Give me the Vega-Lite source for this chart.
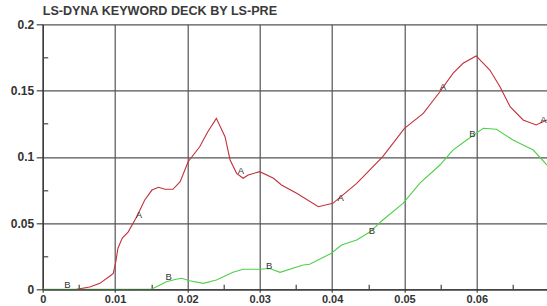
{
  "$schema": "https://vega.github.io/schema/vega-lite/v6.json",
  "autosize": "none",
  "width": 504.3,
  "height": 265,
  "padding": {"left": 42.7, "top": 24.3, "right": 0, "bottom": 16.7},
  "background": "white",
  "title": {"text": "LS-DYNA KEYWORD DECK BY LS-PRE", "anchor": "start", "frame": "group", "offset": 1, "font": "Liberation Sans", "fontSize": 12.6, "fontWeight": "bold", "color": "#3a3a3a"},
  "config": {"view": {"stroke": null}},
  "datasets": {
    "lines": [
      {"s": "B", "x": 0, "y": 0},
      {"s": "B", "x": 0.0114, "y": 0},
      {"s": "B", "x": 0.0151, "y": 0.0002},
      {"s": "B", "x": 0.0162, "y": 0.0032},
      {"s": "B", "x": 0.0171, "y": 0.0057},
      {"s": "B", "x": 0.0183, "y": 0.0074},
      {"s": "B", "x": 0.0192, "y": 0.0083},
      {"s": "B", "x": 0.0203, "y": 0.0065},
      {"s": "B", "x": 0.0222, "y": 0.0045},
      {"s": "B", "x": 0.024, "y": 0.007},
      {"s": "B", "x": 0.0263, "y": 0.0128},
      {"s": "B", "x": 0.0277, "y": 0.0151},
      {"s": "B", "x": 0.03, "y": 0.0151},
      {"s": "B", "x": 0.0314, "y": 0.0157},
      {"s": "B", "x": 0.0328, "y": 0.0128},
      {"s": "B", "x": 0.036, "y": 0.0183},
      {"s": "B", "x": 0.0369, "y": 0.0189},
      {"s": "B", "x": 0.0399, "y": 0.0272},
      {"s": "B", "x": 0.0413, "y": 0.0334},
      {"s": "B", "x": 0.0434, "y": 0.0372},
      {"s": "B", "x": 0.0452, "y": 0.0432},
      {"s": "B", "x": 0.047, "y": 0.0523},
      {"s": "B", "x": 0.0498, "y": 0.0649},
      {"s": "B", "x": 0.0521, "y": 0.08},
      {"s": "B", "x": 0.0549, "y": 0.0938},
      {"s": "B", "x": 0.0567, "y": 0.1051},
      {"s": "B", "x": 0.0586, "y": 0.1127},
      {"s": "B", "x": 0.0599, "y": 0.1177},
      {"s": "B", "x": 0.0609, "y": 0.1215},
      {"s": "B", "x": 0.0627, "y": 0.1208},
      {"s": "B", "x": 0.065, "y": 0.1127},
      {"s": "B", "x": 0.0678, "y": 0.1051},
      {"s": "B", "x": 0.0697, "y": 0.0938},
      {"s": "A", "x": 0.0047, "y": 0},
      {"s": "A", "x": 0.0065, "y": 0.0017},
      {"s": "A", "x": 0.0079, "y": 0.0045},
      {"s": "A", "x": 0.0093, "y": 0.01},
      {"s": "A", "x": 0.00975, "y": 0.012},
      {"s": "A", "x": 0.0101, "y": 0.0206},
      {"s": "A", "x": 0.0104, "y": 0.031},
      {"s": "A", "x": 0.011, "y": 0.0387},
      {"s": "A", "x": 0.0118, "y": 0.0432},
      {"s": "A", "x": 0.013, "y": 0.0548},
      {"s": "A", "x": 0.0141, "y": 0.0674},
      {"s": "A", "x": 0.0151, "y": 0.0749},
      {"s": "A", "x": 0.016, "y": 0.077},
      {"s": "A", "x": 0.0169, "y": 0.0755},
      {"s": "A", "x": 0.018, "y": 0.0755},
      {"s": "A", "x": 0.019, "y": 0.0812},
      {"s": "A", "x": 0.0201, "y": 0.0963},
      {"s": "A", "x": 0.0217, "y": 0.1076},
      {"s": "A", "x": 0.0228, "y": 0.1187},
      {"s": "A", "x": 0.024, "y": 0.129},
      {"s": "A", "x": 0.0252, "y": 0.1152},
      {"s": "A", "x": 0.0259, "y": 0.0976},
      {"s": "A", "x": 0.0268, "y": 0.0875},
      {"s": "A", "x": 0.0277, "y": 0.0838},
      {"s": "A", "x": 0.0284, "y": 0.0863},
      {"s": "A", "x": 0.03, "y": 0.0888},
      {"s": "A", "x": 0.0319, "y": 0.0838},
      {"s": "A", "x": 0.033, "y": 0.0787},
      {"s": "A", "x": 0.0351, "y": 0.0725},
      {"s": "A", "x": 0.0381, "y": 0.0623},
      {"s": "A", "x": 0.0401, "y": 0.0649},
      {"s": "A", "x": 0.0434, "y": 0.08},
      {"s": "A", "x": 0.047, "y": 0.1001},
      {"s": "A", "x": 0.05, "y": 0.1215},
      {"s": "A", "x": 0.0526, "y": 0.1328},
      {"s": "A", "x": 0.0549, "y": 0.1491},
      {"s": "A", "x": 0.0567, "y": 0.163},
      {"s": "A", "x": 0.0581, "y": 0.1706},
      {"s": "A", "x": 0.0599, "y": 0.1761},
      {"s": "A", "x": 0.0618, "y": 0.1655},
      {"s": "A", "x": 0.0632, "y": 0.1529},
      {"s": "A", "x": 0.0646, "y": 0.1378},
      {"s": "A", "x": 0.0664, "y": 0.1278},
      {"s": "A", "x": 0.0682, "y": 0.124},
      {"s": "A", "x": 0.0697, "y": 0.1278}
    ],
    "labels": [
      {"t": "A", "x": 0.0133, "y": 0.0561},
      {"t": "A", "x": 0.0274, "y": 0.0893},
      {"t": "A", "x": 0.0412, "y": 0.0689},
      {"t": "A", "x": 0.0553, "y": 0.1527},
      {"t": "A", "x": 0.0692, "y": 0.1278},
      {"t": "B", "x": 0.0034, "y": 0.0032},
      {"t": "B", "x": 0.0174, "y": 0.0093},
      {"t": "B", "x": 0.0313, "y": 0.0176},
      {"t": "B", "x": 0.0455, "y": 0.044},
      {"t": "B", "x": 0.0594, "y": 0.1172}
    ]
  },
  "resolve": {"axis": {"x": "independent", "y": "independent"}},
  "layer": [
    {
      "data": {"name": "lines"},
      "mark": {"type": "line", "strokeWidth": 1.1, "clip": true, "interpolate": "linear"},
      "encoding": {
        "x": {"field": "x", "type": "quantitative",
          "scale": {"domain": [0, 0.0697], "nice": false, "zero": false},
          "axis": {"orient": "bottom", "title": null, "values": [0, 0.01, 0.02, 0.03, 0.04, 0.05, 0.06], "format": "~g",
            "grid": true, "gridColor": "#555555", "gridWidth": 1.2, "gridOpacity": 1,
            "domainColor": "#333333", "domainWidth": 1.3, "tickColor": "#444444", "tickSize": 3, "tickWidth": 1.2,
            "labelFont": "Liberation Sans", "labelFontSize": 11, "labelFontWeight": "bold", "labelColor": "#333333", "labelPadding": 1, "labelFlush": false, "labelOverlap": false}},
        "y": {"field": "y", "type": "quantitative",
          "scale": {"domain": [0, 0.2], "nice": false},
          "axis": {"orient": "left", "title": null, "values": [0, 0.05, 0.1, 0.15, 0.2], "format": "~g",
            "grid": true, "gridColor": "#555555", "gridWidth": 1.2, "gridOpacity": 1,
            "domainColor": "#333333", "domainWidth": 1.3, "tickColor": "#444444", "tickSize": 6.5, "tickWidth": 1.2,
            "labelFont": "Liberation Sans", "labelFontSize": 12, "labelFontWeight": "bold", "labelColor": "#333333", "labelPadding": 2.5, "labelFlush": false, "labelOverlap": false}},
        "color": {"field": "s", "type": "nominal", "scale": {"domain": ["A", "B"], "range": ["#c3303a", "#4fd04a"]}, "legend": null}
      }
    },
    {
      "data": {"name": "labels"},
      "mark": {"type": "text", "font": "Liberation Sans", "fontSize": 9.5, "color": "#333333", "align": "center", "baseline": "middle"},
      "encoding": {
        "x": {"field": "x", "type": "quantitative",
          "axis": {"orient": "bottom", "title": null, "values": [0.005, 0.015, 0.025, 0.035, 0.045, 0.055, 0.065],
            "labels": false, "grid": false, "domain": false, "tickColor": "#444444", "tickSize": -5, "tickWidth": 1.2}},
        "y": {"field": "y", "type": "quantitative",
          "axis": {"orient": "left", "title": null, "values": [0.025, 0.075, 0.125, 0.175],
            "labels": false, "grid": false, "domain": false, "tickColor": "#444444", "tickSize": -5, "tickWidth": 1.2}},
        "text": {"field": "t", "type": "nominal"}
      }
    }
  ]
}
